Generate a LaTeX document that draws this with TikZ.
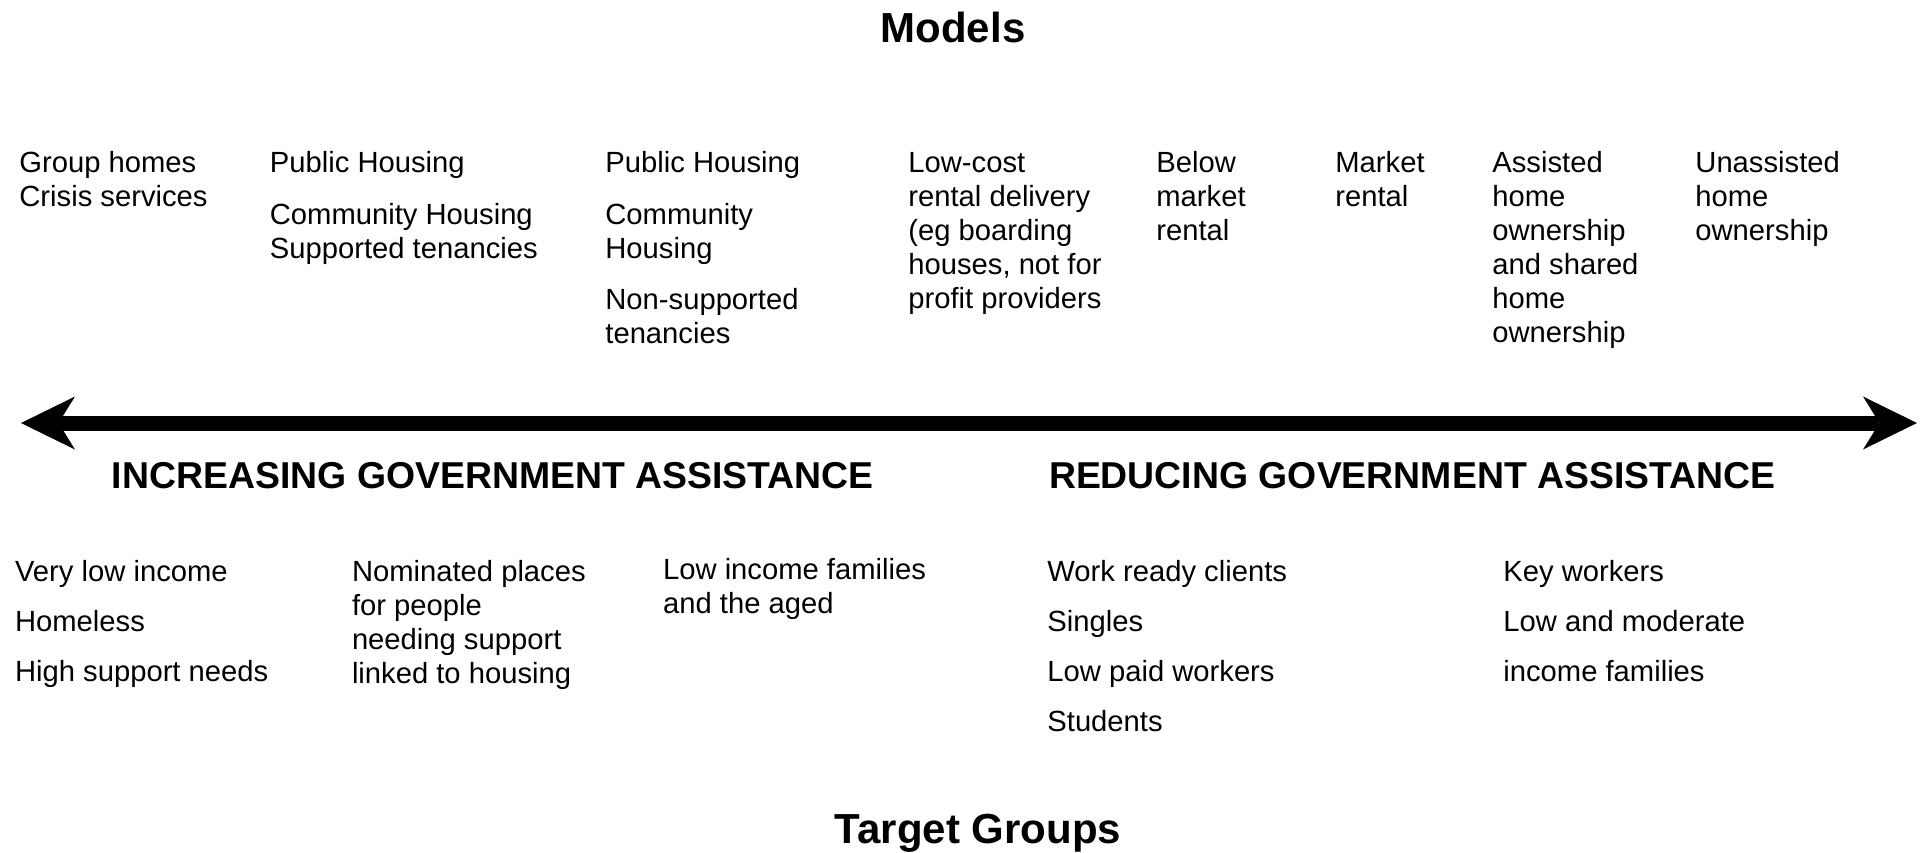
\documentclass[tikz,border=0pt]{standalone}
\usepackage{fontspec}
\setmainfont{Liberation Sans}
\usetikzlibrary{arrows.meta}
\begin{document}
\begin{tikzpicture}[x=0.5pt,y=-0.5pt,
  mt/.style={anchor=base west, inner sep=0pt, font=\fontsize{14.6}{17}\selectfont},
  hd/.style={anchor=base west, inner sep=0pt, font=\bfseries\fontsize{18.7}{22}\selectfont},
  tt/.style={anchor=base, inner sep=0pt, font=\bfseries\fontsize{21}{25}\selectfont},
  bigtip/.tip={Stealth[length=27pt,width=26.5pt,inset=8.2pt,line width=0pt]},
  bigarrow/.style={line width=7.5pt, arrows={bigtip-bigtip}}
]
\useasboundingbox (0,0) rectangle (1921,852);
% titles
\node[tt] (models) at (953,42.5) {Models};
\node[tt] (target) at (978,843) {Target Groups};
% models row
\node[mt] (a1) at (19,172) {Group homes};
\node[mt] (a2) at (19,206) {Crisis services};
\node[mt] (b1) at (269.5,172) {Public Housing};
\node[mt] (b2) at (269.5,224) {Community Housing};
\node[mt] (b3) at (269.5,258) {Supported tenancies};
\node[mt] (c1) at (605,172) {Public Housing};
\node[mt] (c2) at (605,224) {Community};
\node[mt] (c3) at (605,258) {Housing};
\node[mt] (c4) at (605,309) {Non-supported};
\node[mt] (c5) at (605,343) {tenancies};
\node[mt] (d1) at (908,172) {Low-cost};
\node[mt] (d2) at (908,206) {rental delivery};
\node[mt] (d3) at (908,240) {(eg boarding};
\node[mt] (d4) at (908,274) {houses, not for};
\node[mt] (d5) at (908,308) {profit providers};
\node[mt] (e1) at (1156,172) {Below};
\node[mt] (e2) at (1156,206) {market};
\node[mt] (e3) at (1156,240) {rental};
\node[mt] (f1) at (1335,172) {Market};
\node[mt] (f2) at (1335,206) {rental};
\node[mt] (g1) at (1492,172) {Assisted};
\node[mt] (g2) at (1492,206) {home};
\node[mt] (g3) at (1492,240) {ownership};
\node[mt] (g4) at (1492,274) {and shared};
\node[mt] (g5) at (1492,308) {home};
\node[mt] (g6) at (1492,342) {ownership};
\node[mt] (h1) at (1695,172) {Unassisted};
\node[mt] (h2) at (1695,206) {home};
\node[mt] (h3) at (1695,240) {ownership};
% arrow
\coordinate (L) at (21,423);
\coordinate (R) at (1917,423);
\draw[bigarrow] (L) -- (R);
% headings
\node[hd] (inc) at (111.5,488) {INCREASING GOVERNMENT ASSISTANCE};
\node[hd] (red) at (1048.6,488) {REDUCING GOVERNMENT ASSISTANCE};
% target groups
\node[mt] (p1) at (14.7,581) {Very low income};
\node[mt] (p2) at (14.7,631) {Homeless};
\node[mt] (p3) at (14.7,681) {High support needs};
\node[mt] (q1) at (351.6,581) {Nominated places};
\node[mt] (q2) at (351.6,615) {for people};
\node[mt] (q3) at (351.6,649) {needing support};
\node[mt] (q4) at (351.6,683) {linked to housing};
\node[mt] (r1) at (662.7,579) {Low income families};
\node[mt] (r2) at (662.7,613) {and the aged};
\node[mt] (s1) at (1047,581) {Work ready clients};
\node[mt] (s2) at (1047,631) {Singles};
\node[mt] (s3) at (1047,681) {Low paid workers};
\node[mt] (s4) at (1047,731) {Students};
\node[mt] (t1) at (1503,581) {Key workers};
\node[mt] (t2) at (1503,631) {Low and moderate};
\node[mt] (t3) at (1503,681) {income families};
\end{tikzpicture}
\end{document}
